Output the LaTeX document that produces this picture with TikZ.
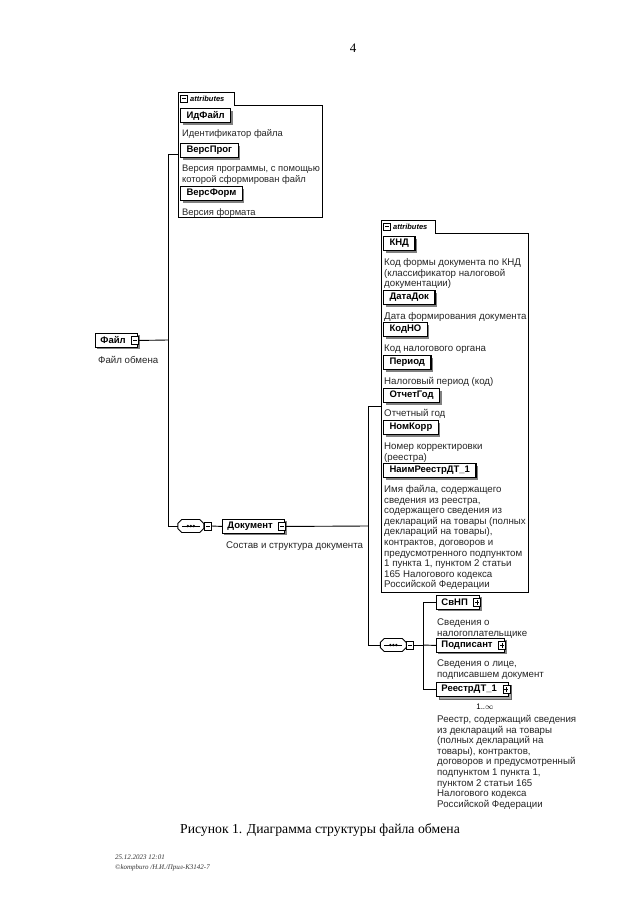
\documentclass[tikz,border=0pt]{standalone}
\usepackage{fontspec}
\setmainfont{Liberation Serif}
\newfontfamily\dia{Liberation Sans}
\usetikzlibrary{shadows,calc}
\begin{document}
\begin{tikzpicture}[x=1pt,y=-1pt,
  conn/.style={line width=0.9pt},
  grp/.style={draw, line width=0.8pt},
  elem/.style={draw, line width=0.9pt, fill=white, font=\dia\bfseries\fontsize{9.5}{11}\selectfont,
    inner xsep=5pt, inner ysep=0pt, minimum height=14pt, anchor=north west,
    drop shadow={shadow xshift=2pt, shadow yshift=-2pt, fill=black!50, opacity=1}},
  attr/.style={elem, line width=1.1pt, inner xsep=6pt},
  multi/.style={draw, line width=0.9pt, fill=white, font=\dia\bfseries\fontsize{9.5}{11}\selectfont,
    inner xsep=5pt, inner ysep=0pt, minimum height=14pt, anchor=north west,
    copy shadow={shadow xshift=3pt, shadow yshift=-3pt, fill=black!35, draw=black!60}},
  pmbox/.style={draw, fill=white, line width=0.6pt, minimum width=7pt, minimum height=8pt, inner sep=0pt},
  pmminus/.style={pmbox, path picture={\draw[line width=0.6pt] ([xshift=1.5pt]path picture bounding box.west) -- ([xshift=-1.5pt]path picture bounding box.east);}},
  pmplus/.style={pmbox, path picture={\draw[line width=0.6pt] ([xshift=1.5pt]path picture bounding box.west) -- ([xshift=-1.5pt]path picture bounding box.east); \draw[line width=0.6pt] ([yshift=1.5pt]path picture bounding box.south) -- ([yshift=-1.5pt]path picture bounding box.north);}},
  desc/.style={anchor=base west, inner sep=0pt, align=left, font=\dia\fontsize{9.7}{10.6}\selectfont, text=black!85},
  descs/.style={desc, font=\dia\fontsize{9.4}{10.6}\selectfont},
  tabtext/.style={anchor=west, inner sep=0pt, font=\dia\itshape\bfseries\fontsize{7.5}{9}\selectfont},
  seqnode/.style={minimum width=26pt, minimum height=13pt, inner sep=0pt},
  hole/.style={anchor=north west, inner sep=0pt}
]
\fill[white] (0,0) rectangle (640,920);
\useasboundingbox (0,0) rectangle (640,920);

% page number
\node[font=\fontsize{13}{15}\selectfont] (pg) at (353,48) {4};

% ---------- top attributes group ----------
\node[hole, minimum width=56pt, minimum height=13pt] (tabA) at (178,92) {};
\node[hole, minimum width=144pt, minimum height=125pt] (attrA) at (178,92) {};
\draw[grp] (attrA.north west) -- (tabA.north east) -- (tabA.south east) -- (tabA.south east -| attrA.east) -- (attrA.south east) -- (attrA.south west) -- cycle;
\node[pmminus, minimum height=7pt] (tabApm) at ([xshift=6pt]tabA.west) {};
\node[tabtext] (tabAtxt) at ([xshift=12pt]tabA.west) {attributes};

\node[attr] (idf) at (180,108) {ИдФайл};
\node[descs] (idfd) at (182,136.5) {Идентификатор файла};
\node[attr] (vprog) at (180,143) {ВерсПрог};
\node[descs] (vprogd) at (182,182.1) {Версия программы, с помощью\\которой сформирован файл};
\node[attr] (vform) at (180,186) {ВерсФорм};
\node[descs] (vformd) at (182,215.5) {Версия формата};

% ---------- root ----------
\node[elem] (file) at (95,333) {Файл\kern7pt};
\node[pmminus] (filepm) at ([xshift=-3pt]file.east) {};
\node[desc] (filed) at (98,363.5) {Файл обмена};

\coordinate (j1) at (168,340);
\draw[conn] (filepm.east) -- (j1);
\draw[conn] (attrA.west) -| (j1);

% ---------- sequence 1 ----------
\node[seqnode] (seq1) at (191,526) {};
\draw[conn, fill=white, shift={(seq1.west)}] (0,-2.5) -- (4,-6.5) -- (22,-6.5) -- (26,-2.5) -- (26,2.5) -- (22,6.5) -- (4,6.5) -- (0,2.5) -- cycle;
\draw[line width=0.6pt, shift={(seq1.west)}] (4,0) -- (22,0);
\fill[shift={(seq1.west)}] (10,0) circle (1.3pt) (13,0) circle (1.3pt) (16,0) circle (1.3pt);
\node[pmminus] (seq1pm) at ([xshift=3.5pt]seq1.east) {};
\draw[conn] (j1) |- (seq1.west);

\node[elem] (doc) at (222,519) {Документ\kern7pt};
\node[pmminus] (docpm) at ([xshift=-3pt]doc.east) {};
\node[desc] (docd) at (226,548.5) {Состав и структура документа};
\draw[conn] (seq1pm.east) -- (doc.west);

% ---------- second attributes group ----------
\node[hole, minimum width=54pt, minimum height=13pt] (tabB) at (381,220) {};
\node[hole, minimum width=147pt, minimum height=372pt] (attrB) at (381,220) {};
\draw[grp] (attrB.north west) -- (tabB.north east) -- (tabB.south east) -- (tabB.south east -| attrB.east) -- (attrB.south east) -- (attrB.south west) -- cycle;
\node[pmminus, minimum height=7pt] (tabBpm) at ([xshift=6pt]tabB.west) {};
\node[tabtext] (tabBtxt) at ([xshift=12pt]tabB.west) {attributes};

\node[attr] (knd) at (383,236) {КНД};
\node[desc] (kndd) at (384,286.7) {Код формы документа по КНД\\(классификатор налоговой\\документации)};
\node[attr] (dd) at (383,290) {ДатаДок};
\node[desc] (ddd) at (384,319.5) {Дата формирования документа};
\node[attr] (kno) at (383,322) {КодНО};
\node[desc] (knod) at (384,351.5) {Код налогового органа};
\node[attr] (per) at (383,355) {Период};
\node[desc] (perd) at (384,384.5) {Налоговый период (код)};
\node[attr] (og) at (383,388) {ОтчетГод};
\node[desc] (ogd) at (384,416.5) {Отчетный год};
\node[attr] (nk) at (383,420) {НомКорр};
\node[desc] (nkd) at (384,460.1) {Номер корректировки\\(реестра)};
\node[attr] (nr) at (383,463) {НаимРеестрДТ\_1};
\node[desc] (nrd) at (384,587.9) {Имя файла, содержащего\\сведения из реестра,\\содержащего сведения из\\деклараций на товары (полных\\деклараций на товары),\\контрактов, договоров и\\предусмотренного подпунктом\\1 пункта 1, пунктом 2 статьи\\165 Налогового кодекса\\Российской Федерации};

\coordinate (j2) at (368,526);
\draw[conn] (docpm.east) -- (j2);
\draw[conn] (attrB.west) -| (j2);

% ---------- sequence 2 ----------
\node[seqnode] (seq2) at (393.5,645) {};
\draw[conn, fill=white, shift={(seq2.west)}] (0,-2.5) -- (4,-6.5) -- (22,-6.5) -- (26,-2.5) -- (26,2.5) -- (22,6.5) -- (4,6.5) -- (0,2.5) -- cycle;
\draw[line width=0.6pt, shift={(seq2.west)}] (4,0) -- (22,0);
\fill[shift={(seq2.west)}] (10,0) circle (1.3pt) (13,0) circle (1.3pt) (16,0) circle (1.3pt);
\node[pmminus] (seq2pm) at ([xshift=3.5pt]seq2.east) {};
\draw[conn] (j2) |- (seq2.west);

\node[elem] (svnp) at (436,595) {СвНП\kern7pt};
\node[pmplus] (svnppm) at ([xshift=-3pt]svnp.east) {};
\node[desc] (svnpd) at (437,636.1) {Сведения о\\налогоплательщике};
\node[elem] (podp) at (436,638) {Подписант\kern7pt};
\node[pmplus] (podppm) at ([xshift=-3pt]podp.east) {};
\node[desc] (podpd) at (437,677.1) {Сведения о лице,\\подписавшем документ};
\node[multi] (reestr) at (436,682) {РеестрДТ\_1\kern7pt};
\node[pmplus] (reestrpm) at ([xshift=-3pt]reestr.east) {};
\node[font=\dia\fontsize{8}{9}\selectfont, inner sep=0pt] (occ) at (485,707) {1..$\infty$};
\node[desc] (reestrd) at (437,807.3) {Реестр, содержащий сведения\\из деклараций на товары\\(полных деклараций на\\товары), контрактов,\\договоров и предусмотренный\\подпунктом 1 пункта 1,\\пунктом 2 статьи 165\\Налогового кодекса\\Российской Федерации};

\coordinate (j3) at (423,645);
\draw[conn] (seq2pm.east) -- (j3);
\draw[conn] (j3) |- (svnp.west);
\draw[conn] (j3) -- (podp.west);
\draw[conn] (j3) |- (reestr.west);

% ---------- caption and footer ----------
\node[font=\fontsize{13.7}{16}\selectfont] (cap) at (320,830) {Рисунок 1. Диаграмма структуры файла обмена};
\node[anchor=base west, inner sep=0pt, align=left, font=\itshape\fontsize{7}{9.5}\selectfont, text=black!80] (foot) at (115,869) {25.12.2023 12:01\\©kompburo /Н.И./Прил-К3142-7};
\end{tikzpicture}
\end{document}
